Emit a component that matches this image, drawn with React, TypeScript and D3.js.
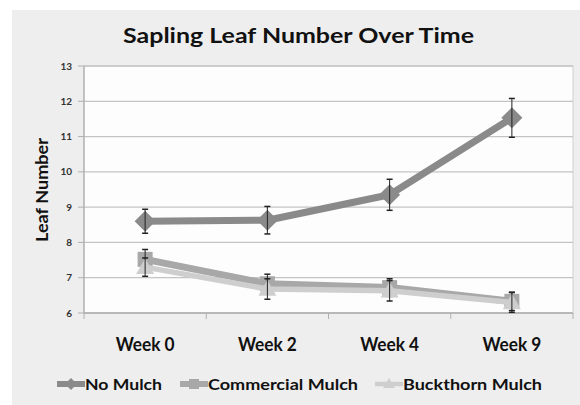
import React from "react";
import * as d3 from "d3";

const categories = ["Week 0", "Week 2", "Week 4", "Week 9"];
const noMulch = [8.6, 8.63, 9.35, 11.53];
const noMulchErr = [0.34, 0.39, 0.44, 0.55];
const commercial = [7.52, 6.83, 6.72, 6.33];
const commercialErr = [0.28, 0.27, 0.25, 0.26];
const buckthorn = [7.3, 6.68, 6.63, 6.3];
const buckthornErr = [0.26, 0.29, 0.29, 0.28];
const yTicks = [6, 7, 8, 9, 10, 11, 12, 13];
const seriesNames = ["No Mulch", "Commercial Mulch", "Buckthorn Mulch"];

const W = 580, H = 405;
const plot = { left: 84, right: 573, top: 66, bottom: 313 };
const FONT = "Lato, 'Open Sans', sans-serif";

export default function App() {
  const x = d3.scaleBand().domain(categories).range([plot.left, plot.right]);
  const y = d3.scaleLinear().domain([6, 13]).range([plot.bottom, plot.top]);
  const cx = (c: string) => (x(c) as number) + x.bandwidth() / 2;
  const line = d3.line<number>().x((_, i) => cx(categories[i])).y((v) => y(v));

  const series = [
    { name: seriesNames[0], vals: noMulch, err: noMulchErr, color: "#8a8a8a", lw: 7, shape: "diamond" },
    { name: seriesNames[1], vals: commercial, err: commercialErr, color: "#a8a8a8", lw: 7, shape: "square" },
    { name: seriesNames[2], vals: buckthorn, err: buckthornErr, color: "#cecece", lw: 5.5, shape: "triangle" },
  ];

  const marker = (shape: string, px: number, py: number, color: string, key: string | number) => {
    if (shape === "diamond") {
      const s = 10.5;
      return <path key={key} d={`M${px},${py - s}L${px + s},${py}L${px},${py + s}L${px - s},${py}Z`} fill={color} />;
    }
    if (shape === "square") {
      const s = 7.5;
      return <rect key={key} x={px - s} y={py - s} width={2 * s} height={2 * s} fill={color} />;
    }
    const s = 9;
    return <path key={key} d={`M${px},${py - s}L${px + s},${py + s * 0.75}L${px - s},${py + s * 0.75}Z`} fill={color} />;
  };

  const legendItems = [
    { x0: 57, tx: 85, len: 77 },
    { x0: 180, tx: 208, len: 150 },
    { x0: 375, tx: 403, len: 139 },
  ];

  return (
    <svg width={W} height={H} style={{ position: "absolute", left: 0, top: 0 }}>
      <rect x={12} y={10} width={W - 12} height={H - 10} fill="#eeeeee" />
      <text x={123} y={43} textLength={351} lengthAdjust="spacingAndGlyphs" fontFamily={FONT} fontWeight="bold" fontSize={21} fill="#111">
        Sapling Leaf Number Over Time
      </text>
      <rect x={plot.left} y={plot.top} width={plot.right - plot.left} height={plot.bottom - plot.top} fill="#fdfdfd" stroke="#d0d0d0" />
      {yTicks.map((t) => (
        <g key={t}>
          <line x1={plot.left} x2={plot.right} y1={y(t)} y2={y(t)} stroke="#c4c4c4" strokeWidth={1.3} />
          <line x1={plot.left - 6} x2={plot.left} y1={y(t)} y2={y(t)} stroke="#b0b0b0" />
          <text x={72} y={y(t) + 3.5} textAnchor="end" fontFamily={FONT} fontWeight="bold" fontSize={10} fill="#333">{t}</text>
        </g>
      ))}
      <line x1={plot.left} x2={plot.left} y1={plot.top} y2={plot.bottom} stroke="#b0b0b0" strokeWidth={1.3} />
      <line x1={plot.left} x2={plot.right} y1={plot.bottom} y2={plot.bottom} stroke="#b0b0b0" strokeWidth={1.3} />
      {[...categories.map((c) => x(c) as number), plot.right].map((tx, i) => (
        <line key={i} x1={tx} x2={tx} y1={plot.bottom} y2={plot.bottom + 6} stroke="#b0b0b0" />
      ))}
      {categories.map((c) => (
        <text key={c} x={cx(c) - 29.5} y={351} textLength={59} lengthAdjust="spacingAndGlyphs" fontFamily={FONT} fontWeight="bold" fontSize={18} fill="#111">{c}</text>
      ))}
      <text transform={`translate(48,242) rotate(-90)`} textLength={104} lengthAdjust="spacingAndGlyphs" fontFamily={FONT} fontWeight="bold" fontSize={17} fill="#111">
        Leaf Number
      </text>
      {series.map((s, si) => (
        <g key={si}>
          <path d={line(s.vals) as string} fill="none" stroke={s.color} strokeWidth={s.lw} strokeLinejoin="round" />
          {s.vals.map((v, i) => {
            const px = cx(categories[i]);
            const top = y(v + s.err[i]);
            const bot = y(v - s.err[i]);
            return (
              <g key={i}>
                {marker(s.shape, px, y(v), s.color, "m")}
                <line x1={px} x2={px} y1={top} y2={bot} stroke="#222" strokeWidth={1} />
                <line x1={px - 3} x2={px + 3} y1={top} y2={top} stroke="#222" strokeWidth={1.5} />
                <line x1={px - 3} x2={px + 3} y1={bot} y2={bot} stroke="#222" strokeWidth={1.5} />
              </g>
            );
          })}
        </g>
      ))}
      {series.map((s, si) => {
        const it = legendItems[si];
        const mx = (it.x0 + it.tx) / 2;
        const ly = 384;
        return (
          <g key={si}>
            <line x1={it.x0} x2={it.tx} y1={ly} y2={ly} stroke={s.color} strokeWidth={s.lw - 1} />
            {s.shape === "diamond" ? (
              <path d={`M${mx},${ly - 6}L${mx + 6},${ly}L${mx},${ly + 6}L${mx - 6},${ly}Z`} fill={s.color} />
            ) : s.shape === "square" ? (
              <rect x={mx - 5} y={ly - 5} width={10} height={10} fill={s.color} />
            ) : (
              <path d={`M${mx},${ly - 6}L${mx + 6},${ly + 4}L${mx - 6},${ly + 4}Z`} fill={s.color} />
            )}
            <text x={it.tx} y={390} textLength={it.len} lengthAdjust="spacingAndGlyphs" fontFamily={FONT} fontWeight="bold" fontSize={16} fill="#111">{s.name}</text>
          </g>
        );
      })}
    </svg>
  );
}
